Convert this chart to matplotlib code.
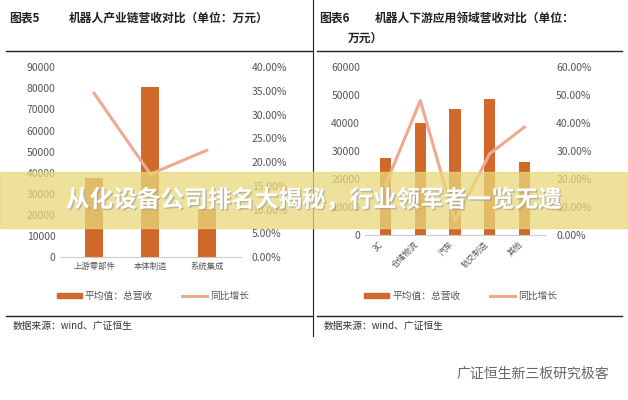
import matplotlib
matplotlib.use("Agg")
import matplotlib.pyplot as plt
from matplotlib.lines import Line2D
from matplotlib.patches import Rectangle
import matplotlib.patheffects as pe

plt.rcParams["font.family"] = ["Noto Sans CJK SC", "DejaVu Sans"]

cats1 = ["上游零部件", "本体制造", "系统集成"]
rev1 = [37500, 80500, 23000]
yoy1 = [34.5, 17.5, 22.5]

cats2 = ["3C", "仓储物流", "汽车", "轨交制造", "其他"]
rev2 = [27500, 40000, 45000, 48500, 26000]
yoy2 = [18, 48, 5, 29, 38.5]

BAR = "#d0692a"
LINE = "#eeaa90"
TXT = "#555555"

fig = plt.figure(figsize=(6.28, 4.0), dpi=100)
fig.patch.set_facecolor("white")

def panel(rect, cats, rev, yoy, ymax, ystep, pmax, pstep, rot):
    ax = fig.add_axes(rect)
    x = range(len(cats))
    ax.bar(x, rev, width=0.32, color=BAR, zorder=2)
    ax.set_ylim(0, ymax)
    ax.set_yticks(range(0, ymax + 1, ystep))
    ax.set_xlim(-0.6, len(cats) - 0.4)
    ax.set_xticks(list(x))
    if rot:
        ax.set_xticklabels(cats, rotation=45, ha="right", fontsize=6, color=TXT)
    else:
        ax.set_xticklabels(cats, fontsize=6, color=TXT)
    ax.tick_params(axis="y", labelsize=7.5, colors=TXT, length=0)
    ax.tick_params(axis="x", length=0)
    for s in ["top", "right", "left"]:
        ax.spines[s].set_visible(False)
    ax.spines["bottom"].set_color("#cccccc")
    ax2 = ax.twinx()
    ax2.plot(list(x), yoy, color=LINE, lw=2.2, zorder=3)
    ax2.set_ylim(0, pmax)
    ticks = [i * pstep for i in range(int(round(pmax / pstep)) + 1)]
    ax2.set_yticks(ticks)
    ax2.set_yticklabels([f"{t:.2f}%" for t in ticks])
    ax2.tick_params(axis="y", labelsize=7.5, colors=TXT, length=0, pad=8)
    for s in ax2.spines.values():
        s.set_visible(False)
    return ax

panel([0.096, 0.357, 0.287, 0.475], cats1, rev1, yoy1, 90000, 10000, 40, 5, False)
panel([0.581, 0.4125, 0.287, 0.42], cats2, rev2, yoy2, 60000, 10000, 60, 10, True)

# titles
fig.text(0.015, 0.945, "图表5", fontsize=8.5, fontweight="bold", color="#222222")
fig.text(0.11, 0.945, "机器人产业链营收对比（单位：万元）", fontsize=8.5, fontweight="bold", color="#222222")
fig.text(0.508, 0.945, "图表6", fontsize=8.5, fontweight="bold", color="#222222")
fig.text(0.597, 0.945, "机器人下游应用领域营收对比（单位：", fontsize=8.5, fontweight="bold", color="#222222")
fig.text(0.553, 0.895, "万元）", fontsize=8.5, fontweight="bold", color="#222222")

# frame lines
for (x0, x1) in [(0.01, 0.497), (0.505, 0.99)]:
    fig.add_artist(Line2D([x0, x1], [0.873, 0.873], color="#222222", lw=1))
    fig.add_artist(Line2D([x0, x1], [0.21, 0.21], color="#222222", lw=1))
fig.add_artist(Line2D([0.499, 0.499], [1.0, 0.16], color="#222222", lw=0.8))

# legends
for lx in [0.09, 0.58]:
    fig.add_artist(Rectangle((lx, 0.255), 0.04, 0.012, color=BAR, transform=fig.transFigure))
    fig.text(lx + 0.045, 0.261, "平均值：总营收", fontsize=7, color=TXT, va="center")
    fig.add_artist(Line2D([lx + 0.2, lx + 0.24], [0.261, 0.261], color=LINE, lw=2.2))
    fig.text(lx + 0.245, 0.261, "同比增长", fontsize=7, color=TXT, va="center")

fig.text(0.02, 0.178, "数据来源：wind、广证恒生", fontsize=7, color="#333333")
fig.text(0.515, 0.178, "数据来源：wind、广证恒生", fontsize=7, color="#333333")

# banner
fig.add_artist(Rectangle((0, 0.43), 1, 0.14, color="#e8d87a", alpha=0.75, transform=fig.transFigure, zorder=10))
fig.text(0.5, 0.5, "从化设备公司排名大揭秘，行业领军者一览无遗", fontsize=17, fontweight="bold",
         color="white", ha="center", va="center", zorder=11,
         path_effects=[pe.withSimplePatchShadow(offset=(1, -1), shadow_rgbFace="#999999", alpha=0.6)])

# watermark
fig.text(0.97, 0.065, "广证恒生新三板研究极客", fontsize=10, color="#666666", ha="right", va="center")

fig.savefig("out.png", dpi=100)
